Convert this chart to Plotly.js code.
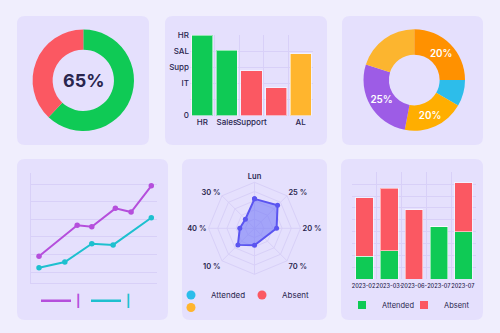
<!DOCTYPE html>
<html><head><meta charset="utf-8">
<script src="https://cdn.plot.ly/plotly-3.0.1.min.js"></script>
<style>html,body{margin:0;padding:0;background:#f0eefd;}#chart{width:500px;height:333px;}</style>
</head><body><div id="chart"></div>
<script>
// ---------- data ----------
// Panel 1: attendance donut
const donutLabels = ['Present', 'Absent'];
const donutValues = [62, 38];
const donutCenterText = '65%';

// Panel 2: department bars
const deptCategories = ['HR', 'Sales', 'Support', 'Other', 'AL'];
const deptTickText = ['HR', 'Sales', 'Support', '', 'AL'];
const deptValues = [5.0, 4.05, 2.77, 1.73, 3.85];
const deptYTickVals = [0, 1, 2, 3, 4, 5];
const deptYTickText = ['0', '', 'IT', 'Supp', 'SAL', 'HR'];

// Panel 3: share donut
const shareLabels = ['A', 'B', 'C', 'D', 'E'];
const shareValues = [25, 8.4, 19.6, 26.9, 20.1];
const shareText = ['20%', '', '20%', '25%', ''];

// Panel 4: trend lines
const trendAX = [0, 3.4, 4.7, 6.8, 8.2, 10];
const trendAY = [19.1, 36.6, 35.8, 46.2, 44.1, 59.0];
const trendBX = [0, 2.3, 4.7, 6.6, 10];
const trendBY = [12.6, 15.8, 26.2, 25.5, 40.9];
const trendLegendNames = ['|', '|'];

// Panel 5: radar
const radarTheta = ['Lun', '25 %', '20 %', '70 %', ' ', '10 %', '40 %', '30 %'];
const radarR = [0.64, 0.71, 0.48, null, 0.37, 0.51, 0.32, 0.28];
const radarLegendNames = ['Attended', 'Absent', ''];

// Panel 6: stacked attendance
const months = ['2023-02.', '2023-03-', '2023-06-', '2023-07', '2023-07 '];
const attended = [1.9, 2.4, 0, 4.4, 4.0];
const absent = [4.95, 5.25, 5.85, 0, 4.1];
const stackLegendNames = ['Attended', 'Absent'];

// ---------- styles ----------
const W = 500, H = 333;
const BG = '#f0eefd', PANEL = '#e5e0fd', GRID = '#d8d0f8', INK = '#29254e';
const GREEN = '#0fca55', RED = '#fb5862', YELLOW = '#ffb52e';
const PURPLE = '#b54fdc', TEAL = '#1ec0cf', CYAN = '#2cbdea', INDIGO = '#5b55f0';
const shareColors = ['#ff9100', '#2dbdea', '#ffae00', '#9d5ce6', '#fcb52f'];
const deptColors = [GREEN, GREEN, RED, RED, YELLOW];
const FONT = 'Inter, "Noto Sans", sans-serif';

const px = v => v / W, py = v => 1 - v / H;
function roundRect(x0, y0, x1, y1, r) {
  const P = (x, y) => px(x) + ',' + py(y);
  return {
    type: 'path', xref: 'paper', yref: 'paper', layer: 'below',
    fillcolor: PANEL, line: {width: 0},
    path: 'M' + P(x0 + r, y0) + ' L' + P(x1 - r, y0) + ' Q' + P(x1, y0) + ' ' + P(x1, y0 + r) +
      ' L' + P(x1, y1 - r) + ' Q' + P(x1, y1) + ' ' + P(x1 - r, y1) +
      ' L' + P(x0 + r, y1) + ' Q' + P(x0, y1) + ' ' + P(x0, y1 - r) +
      ' L' + P(x0, y0 + r) + ' Q' + P(x0, y0) + ' ' + P(x0 + r, y0) + ' Z'
  };
}
function legendMarker(legend, name, marker) {
  return {type: 'scatter', mode: 'markers', x: [null], y: [null], xaxis: 'x2', yaxis: 'y2',
    legend: legend, name: name, marker: marker, hoverinfo: 'none'};
}
function legendLine(legend, name, color) {
  return {type: 'scatter', mode: 'lines', x: [null], y: [null], xaxis: 'x2', yaxis: 'y2',
    legend: legend, name: name, line: {color: color, width: 2.5}, hoverinfo: 'none'};
}

const traces = [
  // Panel 1
  {type: 'pie', labels: donutLabels, values: donutValues, hole: 0.605, sort: false,
   direction: 'clockwise', rotation: 0, textinfo: 'none', hoverinfo: 'none',
   marker: {colors: [GREEN, RED]}, showlegend: false,
   domain: {x: [px(32.6), px(134)], y: [py(131), py(29.6)]}},
  // Panel 3
  {type: 'pie', labels: shareLabels, values: shareValues, text: shareText, hole: 0.5, sort: false,
   direction: 'clockwise', rotation: 0, textinfo: 'text', textposition: 'inside',
   insidetextorientation: 'horizontal', hoverinfo: 'none',
   textfont: {color: '#ffffff', size: 10, family: FONT, weight: 600},
   marker: {colors: shareColors}, showlegend: false,
   domain: {x: [px(363.5), px(465)], y: [py(130.8), py(29.2)]}},
  // Panel 2
  {type: 'bar', x: deptCategories, y: deptValues, xaxis: 'x', yaxis: 'y', width: 0.86,
   marker: {color: deptColors, line: {color: 'rgba(255,255,255,0.55)', width: 1}},
   showlegend: false, hoverinfo: 'none'},
  // Panel 4
  {type: 'scatter', mode: 'lines+markers', x: trendAX, y: trendAY, xaxis: 'x2', yaxis: 'y2',
   line: {color: PURPLE, width: 2}, marker: {color: PURPLE, size: 5.5}, showlegend: false, hoverinfo: 'none'},
  {type: 'scatter', mode: 'lines+markers', x: trendBX, y: trendBY, xaxis: 'x2', yaxis: 'y2',
   line: {color: TEAL, width: 2}, marker: {color: TEAL, size: 5.5}, showlegend: false, hoverinfo: 'none'},
  legendLine('legend', '<span style="color:' + PURPLE + '"><b>' + trendLegendNames[0] + '</b></span>', PURPLE),
  legendLine('legend6', '<span style="color:' + TEAL + '"><b>' + trendLegendNames[1] + '</b></span>', TEAL),
  // Panel 5
  {type: 'scatterpolar', subplot: 'polar', r: radarR.concat([radarR[0]]), theta: radarTheta.concat([radarTheta[0]]),
   mode: 'lines+markers', connectgaps: true, fill: 'toself', fillcolor: 'rgba(110,114,246,0.55)',
   line: {color: INDIGO, width: 2}, marker: {color: INDIGO, size: 5}, showlegend: false, hoverinfo: 'none'},
  legendMarker('legend2', radarLegendNames[0], {color: CYAN, size: 9}),
  legendMarker('legend3', radarLegendNames[1], {color: RED, size: 9}),
  legendMarker('legend7', radarLegendNames[2], {color: YELLOW, size: 9}),
  // Panel 6
  {type: 'bar', x: months, y: attended, xaxis: 'x3', yaxis: 'y3', width: 0.71,
   marker: {color: GREEN, line: {color: 'rgba(255,255,255,0.55)', width: 1}}, showlegend: false, hoverinfo: 'none'},
  {type: 'bar', x: months, y: absent, xaxis: 'x3', yaxis: 'y3', width: 0.71,
   marker: {color: RED, line: {color: 'rgba(255,255,255,0.55)', width: 1}}, showlegend: false, hoverinfo: 'none'},
  legendMarker('legend4', stackLegendNames[0], {color: GREEN, size: 8, symbol: 'square'}),
  legendMarker('legend5', stackLegendNames[1], {color: RED, size: 8, symbol: 'square'})
];

const baseLegend = {orientation: 'h', xanchor: 'left', yanchor: 'middle', bgcolor: 'rgba(0,0,0,0)',
  traceorder: 'normal', itemclick: false, itemdoubleclick: false};
const L = (x, y, size) => Object.assign({}, baseLegend, {x: px(x), y: py(y), font: {size: size, color: INK, family: FONT}});

const layout = {
  width: W, height: H,
  margin: {l: 0, r: 0, t: 0, b: 0},
  paper_bgcolor: BG, plot_bgcolor: 'rgba(0,0,0,0)',
  font: {family: FONT, color: INK, size: 8},
  barmode: 'stack', showlegend: true,
  shapes: [
    roundRect(17, 16, 149, 145, 8), roundRect(165, 16, 327, 145, 8), roundRect(342, 16, 483, 145, 8),
    roundRect(17, 159, 168, 320, 8), roundRect(182, 159, 327, 320, 8), roundRect(341, 159, 483, 320, 8)
  ],
  annotations: [{text: donutCenterText, x: px(83.3), y: py(80.5), xref: 'paper', yref: 'paper',
    xanchor: 'center', yanchor: 'middle',
    showarrow: false, font: {size: 18, color: INK, family: FONT, weight: 700}}],
  // Panel 2 axes
  xaxis: {domain: [px(190), px(313)], anchor: 'y', type: 'category', tickson: 'boundaries',
    tickmode: 'array', tickvals: deptCategories, ticktext: deptTickText, tickangle: 0,
    showgrid: true, gridcolor: GRID, gridwidth: 1, ticks: '', showline: false, zeroline: false,
    tickfont: {size: 8, color: INK, weight: 500}, fixedrange: true},
  yaxis: {domain: [py(115.5), py(35)], anchor: 'x', range: [0, 5], tickmode: 'array',
    tickvals: deptYTickVals, ticktext: deptYTickText, showgrid: true, gridcolor: GRID,
    zeroline: false, ticks: '', showline: false, tickfont: {size: 8, color: INK, weight: 500}, fixedrange: true},
  // Panel 4 axes
  xaxis2: {domain: [px(30.7), px(156.7)], anchor: 'y2', range: [-0.74, 10.48], showgrid: false,
    showline: true, linecolor: GRID, linewidth: 1, zeroline: false, showticklabels: false, ticks: ''},
  yaxis2: {domain: [py(283.3), py(172.7)], anchor: 'x2', range: [3.77, 66.4], tick0: 0, dtick: 10,
    showgrid: true, gridcolor: GRID, showline: true, linecolor: GRID, linewidth: 1, zeroline: false,
    showticklabels: false, ticks: ''},
  // Panel 6 axes
  xaxis3: {domain: [px(352), px(476)], anchor: 'y3', type: 'category', tickson: 'boundaries',
    showgrid: true, gridcolor: GRID, ticks: '', showline: false, zeroline: false,
    tickfont: {size: 5.6, color: INK, weight: 500}, tickangle: 0, ticklabelstandoff: 2},
  yaxis3: {domain: [py(279), py(172.3)], anchor: 'x3', range: [0, 9], dtick: 1, showgrid: true,
    gridcolor: GRID, zeroline: false, showticklabels: false, ticks: '', showline: false},
  // Panel 5 polar
  polar: {domain: {x: [px(208.5), px(300.5)], y: [py(274.3), py(182.3)]}, bgcolor: 'rgba(0,0,0,0)',
    gridshape: 'linear',
    angularaxis: {type: 'category', rotation: 90, direction: 'clockwise', showline: true, linecolor: GRID,
      gridcolor: GRID, ticks: '', tickfont: {size: 7.5, color: INK, weight: 600}},
    radialaxis: {range: [0, 1], dtick: 0.2, showticklabels: false, ticks: '', showline: false, gridcolor: GRID}},
  legend: L(36, 300.7, 12),
  legend6: L(86, 300.7, 12),
  legend2: L(171, 295, 8),
  legend3: L(242, 295, 8),
  legend7: L(171, 307.5, 8),
  legend4: L(342, 305, 7.5),
  legend5: L(404, 305, 7.5)
};

Plotly.newPlot('chart', traces, layout, {displayModeBar: false, staticPlot: true});
</script>
</body></html>
